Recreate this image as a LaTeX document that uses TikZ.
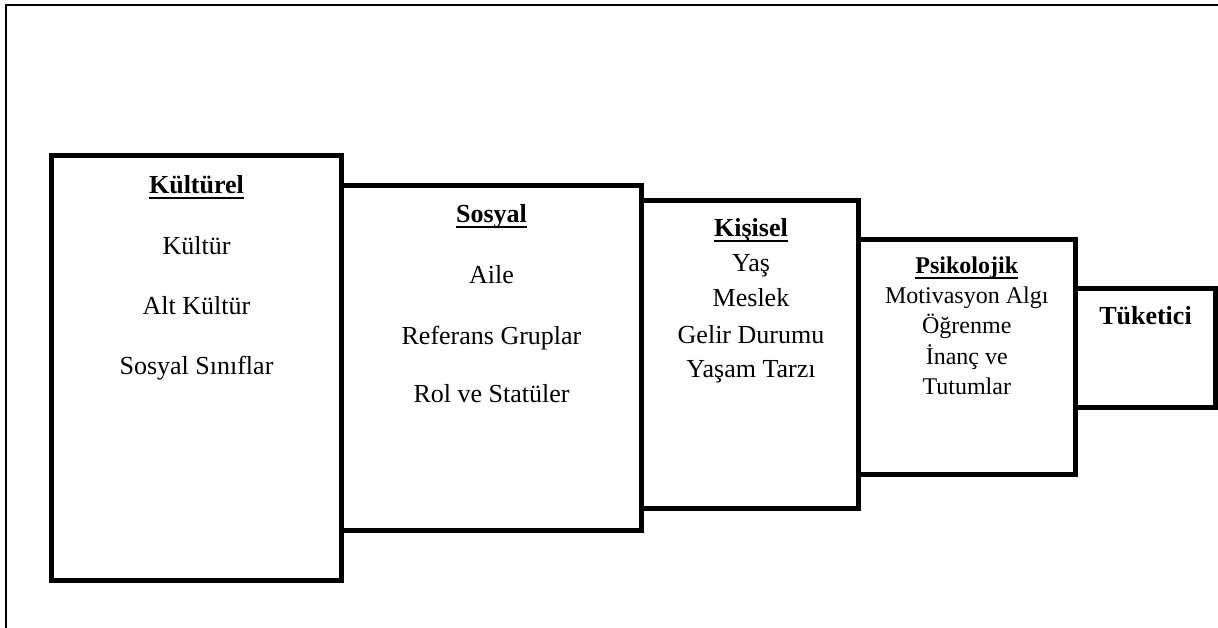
\documentclass[tikz,border=0pt]{standalone}
\usepackage{fontspec}
\setmainfont{Liberation Serif}
\newlength\myulw
\newcommand\myul[1]{\settowidth\myulw{#1}\makebox[0pt][l]{\rule[-5.5pt]{\myulw}{2.5pt}}#1}
\tikzset{
  box/.style={draw, line width=5pt, inner sep=0pt, outer sep=0pt},
  txt/.style={anchor=base, inner sep=0pt, font=\fontsize{26}{30}\selectfont},
  stxt/.style={anchor=base, inner sep=0pt, font=\fontsize{24}{28}\selectfont},
  head/.style={anchor=base, inner sep=0pt, font=\fontsize{26}{30}\selectfont\bfseries},
  shead/.style={anchor=base, inner sep=0pt, font=\fontsize{24}{28}\selectfont\bfseries},
  frame/.style={draw, line width=2pt}
}
\begin{document}
\begin{tikzpicture}[x=1pt,y=-1pt]
\useasboundingbox (0,0) rectangle (1218,628);
% outer frame (top and left visible)
\coordinate (fbl) at (6,628);
\coordinate (ftl) at (6,5);
\coordinate (ftr) at (1218,5);
\draw[frame] (fbl) -- (ftl) -- (ftr);
% boxes
\node[box, minimum width=290pt, minimum height=425pt] (b1) at (196.5,368) {};
\node[box, minimum width=300pt, minimum height=344.5pt] (b2) at (491.5,358.25) {};
\node[box, minimum width=216.5pt, minimum height=308pt] (b3) at (749.75,354.5) {};
\node[box, minimum width=217.5pt, minimum height=234.5pt] (b4) at (966.75,357.25) {};
\node[box, minimum width=140pt, minimum height=119pt] (b5) at (1145.5,348) {};
% box 1
\node[head] (t11) at (196.5,194) {\myul{Kültürel}};
\node[txt] (t12) at (196.5,255) {Kültür};
\node[txt] (t13) at (196.5,315) {Alt Kültür};
\node[txt] (t14) at (196.5,374) {Sosyal Sınıflar};
% box 2
\node[head] (t21) at (491.5,223) {\myul{Sosyal}};
\node[txt] (t22) at (491.5,284) {Aile};
\node[txt] (t23) at (491.5,344) {Referans Gruplar};
\node[txt] (t24) at (491.5,402) {Rol ve Statüler};
% box 3
\node[head] (t31) at (751,237) {\myul{Kişisel}};
\node[txt] (t32) at (751,272) {Yaş};
\node[txt] (t33) at (751,307) {Meslek};
\node[txt] (t34) at (751,343) {Gelir Durumu};
\node[txt] (t35) at (751,377) {Yaşam Tarzı};
% box 4
\node[shead] (t41) at (966.75,274) {\myul{Psikolojik}};
\node[stxt] (t42) at (966.75,304) {Motivasyon Algı};
\node[stxt] (t43) at (966.75,334) {Öğrenme};
\node[stxt] (t44) at (966.75,364) {İnanç ve};
\node[stxt] (t45) at (966.75,394) {Tutumlar};
% box 5
\node[head] (t51) at (1145.5,324) {Tüketici};
\end{tikzpicture}
\end{document}
